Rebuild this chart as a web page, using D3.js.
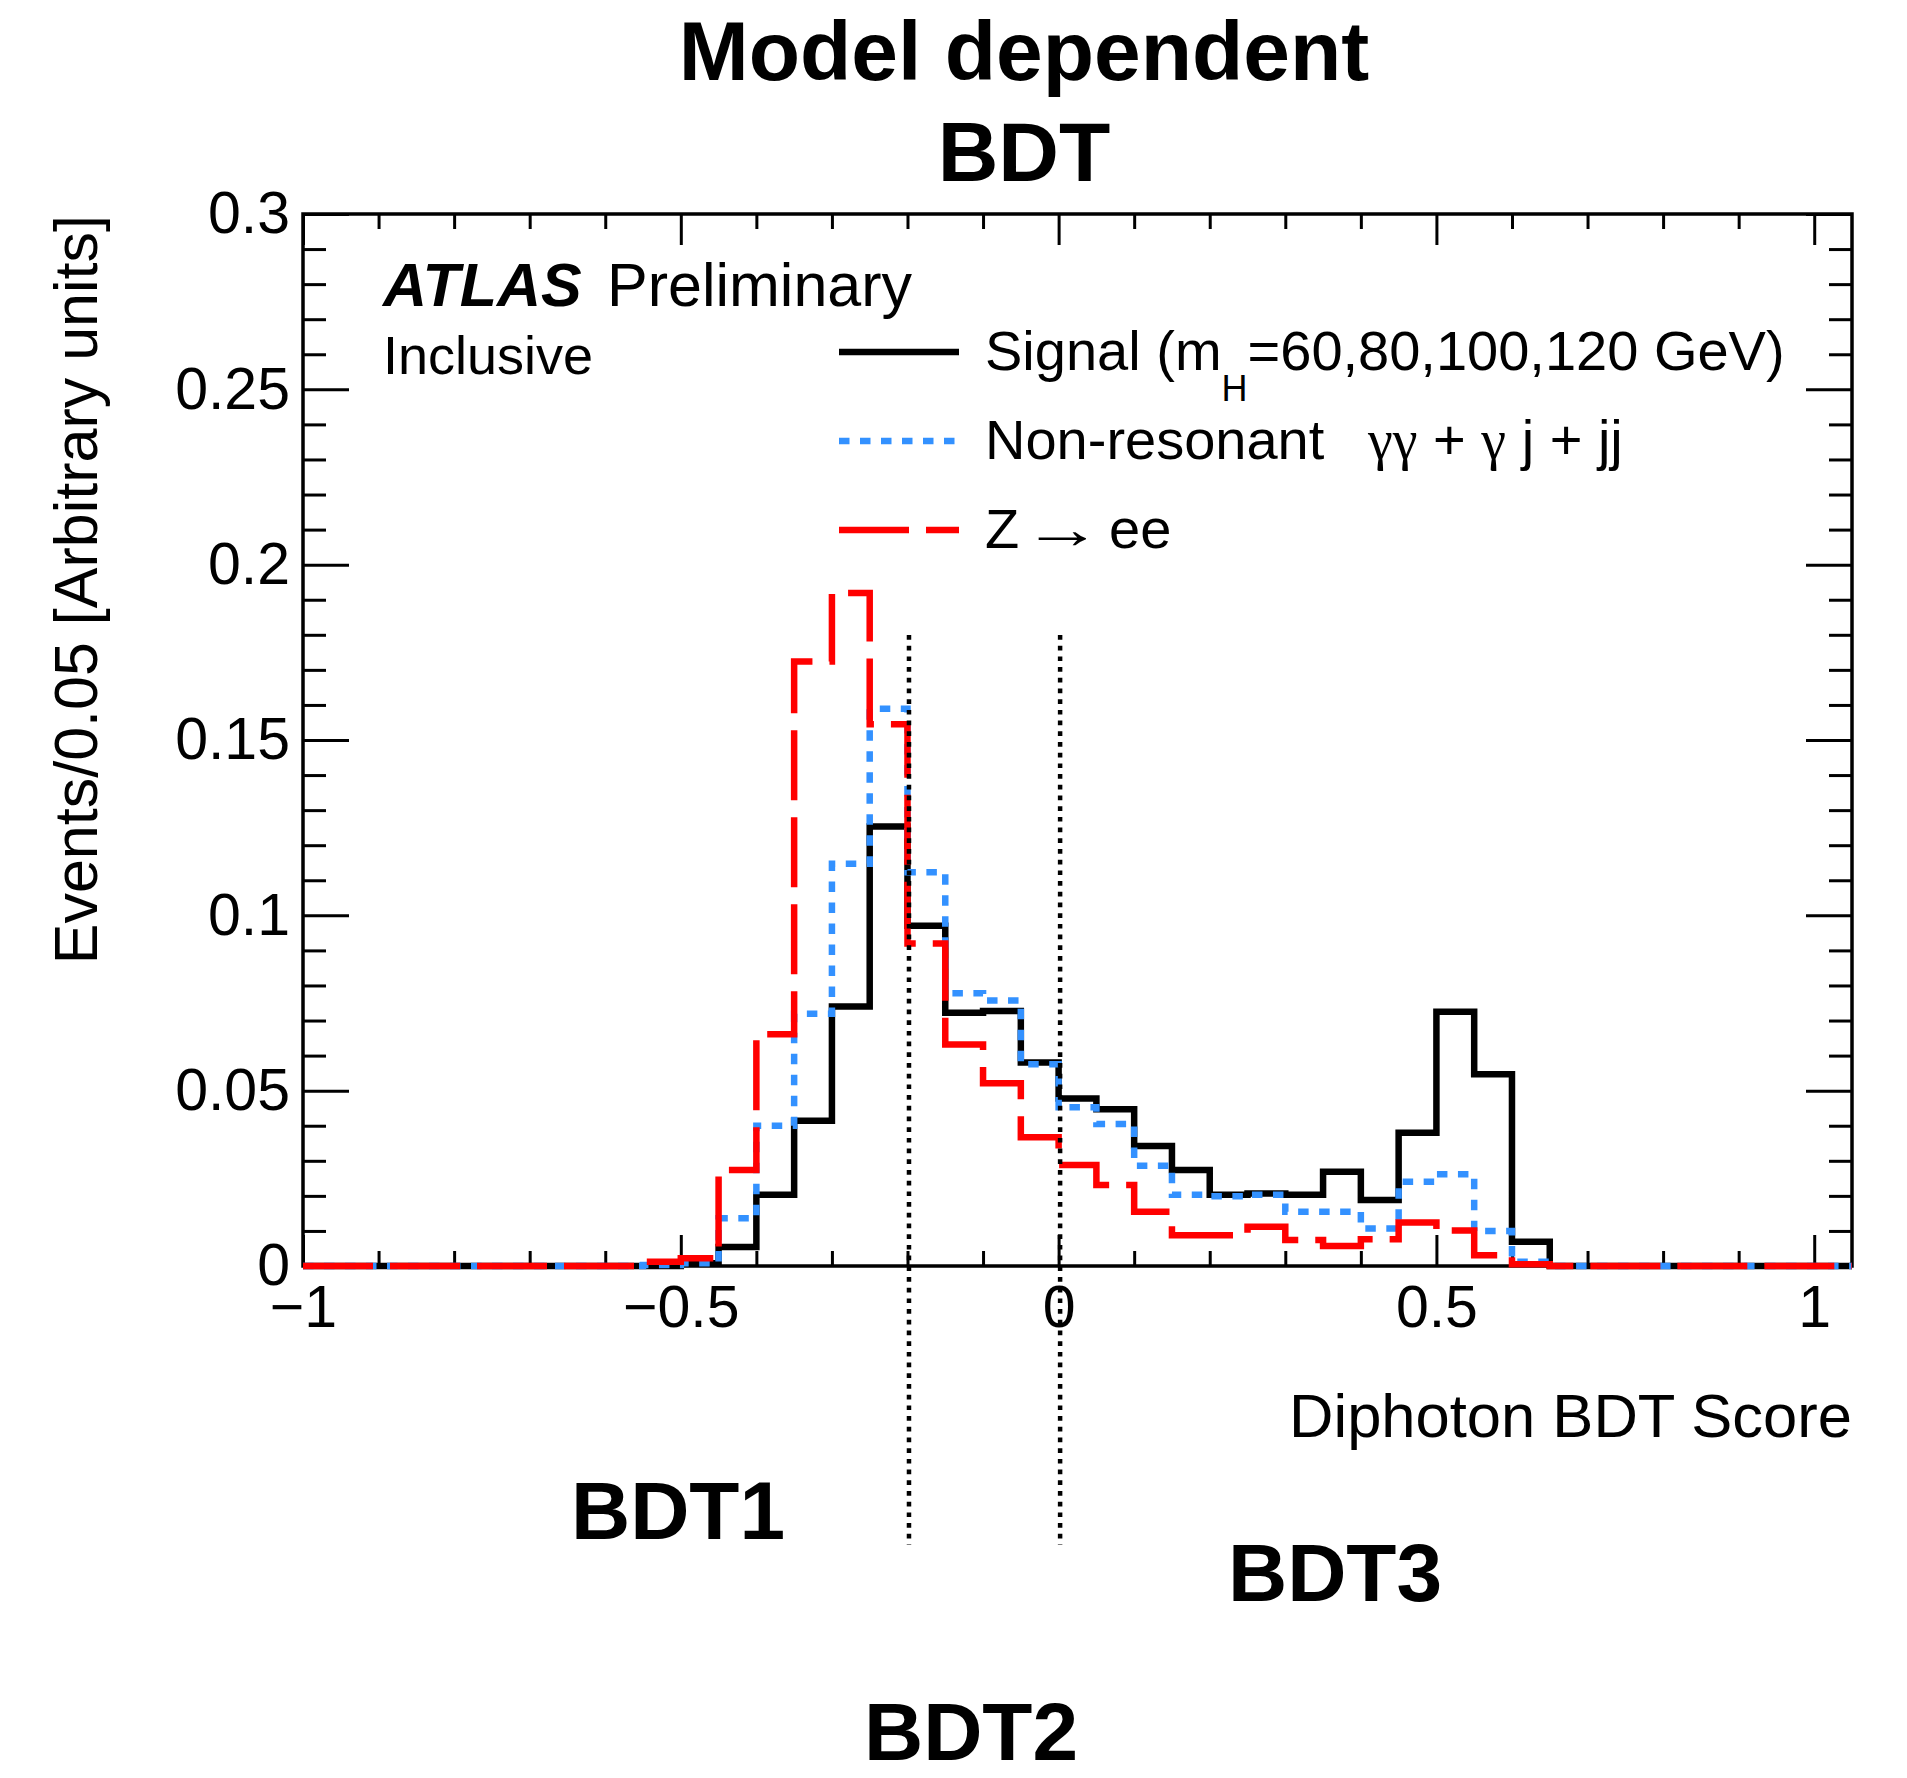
<!DOCTYPE html>
<html>
<head>
<meta charset="utf-8">
<script src="https://cdn.jsdelivr.net/npm/d3@7"></script>
<style>
  html, body { margin: 0; padding: 0; background: #fff; }
  svg { display: block; }
  text { font-family: "Liberation Sans", Arial, Helvetica, sans-serif; fill: #000; }
</style>
</head>
<body>
<svg id="chart" width="1907" height="1778"></svg>
<script>
// ---------------- data ----------------
// lower edges of the 0.05-wide bins (-1.00 ... 1.00), last edge 1.05
const binLow = [-1.00,-0.95,-0.90,-0.85,-0.80,-0.75,-0.70,-0.65,-0.60,-0.55,
                -0.50,-0.45,-0.40,-0.35,-0.30,-0.25,-0.20,-0.15,-0.10,-0.05,
                 0.00, 0.05, 0.10, 0.15, 0.20, 0.25, 0.30, 0.35, 0.40, 0.45,
                 0.50, 0.55, 0.60, 0.65, 0.70, 0.75, 0.80, 0.85, 0.90, 0.95, 1.00];
const lastEdge = 1.05;

const signal = [0,0,0,0,0,0,0,0,0,0,
                0.0008,0.0054,0.0203,0.0414,0.0740,0.1253,0.0970,0.0722,0.0727,0.0580,
                0.0478,0.0447,0.0342,0.0274,0.0203,0.0207,0.0203,0.0269,0.0188,0.0380,
                0.0725,0.0547,0.0069,0,0,0,0,0,0,0,0];
const nonResonant = [0,0,0,0,0,0,0,0,0,0.0003,
                0.0008,0.0136,0.0400,0.0719,0.1147,0.1589,0.1123,0.0778,0.0757,0.0575,
                0.0453,0.0405,0.0286,0.0203,0.0199,0.0203,0.0155,0.0155,0.0107,0.0240,
                0.0262,0.0100,0.0012,0,0,0,0,0,0,0,0];
const zee = [0,0,0,0,0,0,0,0,0,0.0012,
                0.0022,0.0274,0.0661,0.1724,0.1919,0.1545,0.0920,0.0632,0.0521,0.0367,
                0.0288,0.0231,0.0155,0.0088,0.0088,0.0112,0.0074,0.0057,0.0076,0.0124,
                0.0101,0.0031,0.0005,0,0,0,0,0,0,0,0];

const xTickValues = [-1, -0.5, 0, 0.5, 1];
const xTickLabels = ["\u22121", "\u22120.5", "0", "0.5", "1"];
const yTickValues = [0, 0.05, 0.1, 0.15, 0.2, 0.25, 0.3];
const yTickLabels = ["0", "0.05", "0.1", "0.15", "0.2", "0.25", "0.3"];
const cutValues = [-0.2, 0];
const regionLabels = ["BDT1", "BDT2", "BDT3"];

const legendLabels = ["Signal", "Non-resonant", "Z", "ee"];

// ---------------- layout ----------------
const svg = d3.select("#chart");
const L = 303, R = 1852, T = 214, B = 1266;
const x = d3.scaleLinear().domain([-1, 1.05]).range([L, R]);
const y = d3.scaleLinear().domain([0, 0.3]).range([B, T]);

const FONT_TICK = 59;

// frame
svg.append("rect").attr("x", L).attr("y", T).attr("width", R - L).attr("height", B - T)
  .attr("fill", "none").attr("stroke", "#000").attr("stroke-width", 3.5);

const xMinor = d3.range(-0.9, 1.05, 0.1).map(v => Math.round(v * 10) / 10).filter(v => !xTickValues.includes(v));
const yMinor = d3.range(0.01, 0.3, 0.01).map(v => Math.round(v * 100) / 100).filter(v => !yTickValues.some(t => Math.abs(t - v) < 1e-9));

function styleAxis(g) {
  g.select(".domain").remove();
  g.selectAll(".tick line").attr("stroke", "#000").attr("stroke-width", 3);
  g.selectAll("text").attr("font-size", FONT_TICK).attr("fill", "#000")
    .attr("font-family", '"Liberation Sans", Arial, Helvetica, sans-serif');
}

// bottom axis
svg.append("g").attr("transform", `translate(0,${B})`)
  .call(d3.axisBottom(x).tickValues(xTickValues).tickSize(-31).tickPadding(19)
        .tickFormat((d, i) => xTickLabels[i]))
  .call(styleAxis);
svg.append("g").attr("transform", `translate(0,${B})`)
  .call(d3.axisBottom(x).tickValues(xMinor).tickSize(-15).tickFormat(""))
  .call(styleAxis);
// top axis
svg.append("g").attr("transform", `translate(0,${T})`)
  .call(d3.axisTop(x).tickValues(xTickValues).tickSize(-31).tickFormat(""))
  .call(styleAxis);
svg.append("g").attr("transform", `translate(0,${T})`)
  .call(d3.axisTop(x).tickValues(xMinor).tickSize(-15).tickFormat(""))
  .call(styleAxis);
// left axis
svg.append("g").attr("transform", `translate(${L},0)`)
  .call(d3.axisLeft(y).tickValues(yTickValues).tickSize(-46).tickPadding(13)
        .tickFormat((d, i) => yTickLabels[i]))
  .call(styleAxis);
svg.append("g").attr("transform", `translate(${L},0)`)
  .call(d3.axisLeft(y).tickValues(yMinor).tickSize(-23).tickFormat(""))
  .call(styleAxis);
// right axis
svg.append("g").attr("transform", `translate(${R},0)`)
  .call(d3.axisRight(y).tickValues(yTickValues).tickSize(-46).tickFormat(""))
  .call(styleAxis);
svg.append("g").attr("transform", `translate(${R},0)`)
  .call(d3.axisRight(y).tickValues(yMinor).tickSize(-23).tickFormat(""))
  .call(styleAxis);

// ---------------- histograms ----------------
function stepPoints(vals) {
  const pts = binLow.map((lo, i) => [lo, vals[i]]);
  pts.push([lastEdge, vals[vals.length - 1]]);
  return pts;
}
const line = d3.line().x(d => x(d[0])).y(d => y(d[1])).curve(d3.curveStepAfter);

const series = [
  { vals: signal, color: "#000000", dash: null },
  { vals: nonResonant, color: "#3391ff", dash: "10.5,10.5" },
  { vals: zee, color: "#ff0000", dash: "70,17" }
];
series.forEach(s => {
  svg.append("path").attr("d", line(stepPoints(s.vals)))
    .attr("fill", "none").attr("stroke", s.color).attr("stroke-width", 6.5)
    .attr("stroke-linejoin", "miter").attr("stroke-linecap", "butt")
    .attr("stroke-dasharray", s.dash);
});

// cut lines
cutValues.forEach(c => {
  svg.append("line").attr("x1", x(c) + 1.5).attr("x2", x(c) + 1.5).attr("y1", 635).attr("y2", 1545)
    .attr("stroke", "#000").attr("stroke-width", 4.5).attr("stroke-dasharray", "4.7,6");
});

// ---------------- texts ----------------
svg.append("text").attr("x", 1024).attr("y", 80).attr("text-anchor", "middle")
  .attr("font-size", 84).attr("font-weight", "bold").text("Model dependent");
svg.append("text").attr("x", 1024).attr("y", 181).attr("text-anchor", "middle")
  .attr("font-size", 84).attr("font-weight", "bold").text("BDT");

svg.append("text").attr("transform", "translate(97,215) rotate(-90)")
  .attr("text-anchor", "end").attr("font-size", 61).text("Events/0.05 [Arbitrary units]");

svg.append("text").attr("x", R).attr("y", 1437).attr("text-anchor", "end")
  .attr("font-size", 61.5).text("Diphoton BDT Score");

const atlas = svg.append("text").attr("x", 383).attr("y", 306).attr("font-size", 61);
atlas.append("tspan").attr("font-weight", "bold").attr("font-style", "italic").text("ATLAS");
atlas.append("tspan").attr("x", 607).text("Preliminary");
svg.append("text").attr("x", 383).attr("y", 374).attr("font-size", 54).text("Inclusive");

// legend
const legY = [370, 459, 548];
const legX0 = 839, legX1 = 959, legTx = 985;
series.forEach((s, i) => {
  svg.append("line").attr("x1", legX0).attr("x2", legX1).attr("y1", legY[i] - 18).attr("y2", legY[i] - 18)
    .attr("stroke", s.color).attr("stroke-width", 6.5).attr("stroke-dasharray", s.dash);
});
const t0 = svg.append("text").attr("x", legTx).attr("y", legY[0]).attr("font-size", 56);
t0.append("tspan").text(legendLabels[0] + " (m");
t0.append("tspan").attr("font-size", 36).attr("dy", 31).text("H");
t0.append("tspan").attr("dy", -31).text("=60,80,100,120 GeV)");

const t1 = svg.append("text").attr("x", legTx).attr("y", legY[1]).attr("font-size", 56);
t1.append("tspan").text(legendLabels[1]);
const greekFont = '"Liberation Serif", "DejaVu Serif", serif';
t1.append("tspan").attr("x", 1368).attr("font-family", greekFont).text("\u03b3\u03b3");
t1.append("tspan").text(" + ");
t1.append("tspan").attr("font-family", greekFont).text("\u03b3");
t1.append("tspan").text(" j + jj");

const t2 = svg.append("text").attr("x", legTx).attr("y", legY[2]).attr("font-size", 56);
t2.append("tspan").text(legendLabels[2]);
t2.append("tspan").attr("x", 1022).attr("textLength", 80).attr("lengthAdjust", "spacingAndGlyphs")
  .text("\u2192");
t2.append("tspan").attr("x", 1109).text(legendLabels[3]);

// region labels
const regionPos = [[678, 1539], [971, 1760], [1335, 1601]];
regionLabels.forEach((lab, i) => {
  svg.append("text").attr("x", regionPos[i][0]).attr("y", regionPos[i][1])
    .attr("text-anchor", "middle").attr("font-size", 82).attr("font-weight", "bold").text(lab);
});
</script>
</body>
</html>
